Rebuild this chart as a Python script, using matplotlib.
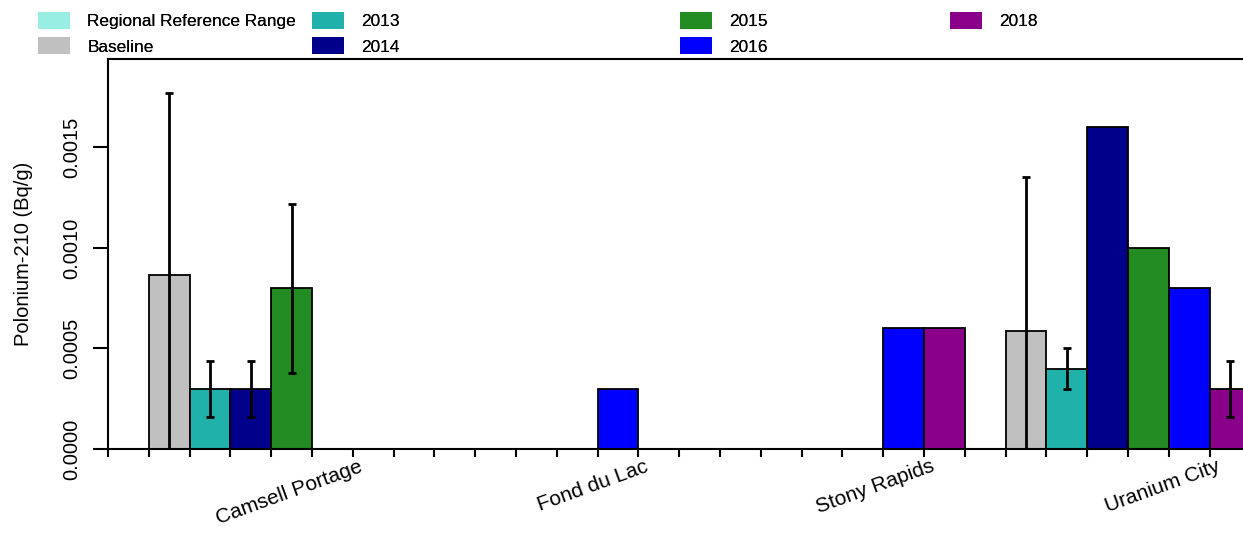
import numpy as np
import matplotlib.pyplot as plt
from matplotlib.patches import Patch

plt.rcParams['font.family'] = ['Liberation Sans', 'DejaVu Sans']

# data
sites = ['Camsell Portage', 'Fond du Lac', 'Stony Rapids', 'Uranium City']
series = ['Regional Reference Range', 'Baseline', '2013', '2014', '2015', '2016', '2018']
colors = ['#98EEE2', '#C0C0C0', '#20B2AA', '#00008B', '#228B22', '#0000FF', '#8B008B']

# rows = sites, columns = series (nan = no data)
nan = np.nan
values = np.array([
    [nan, 0.000866, 0.0003, 0.0003, 0.0008, nan, nan],
    [nan, nan, nan, nan, nan, 0.0003, nan],
    [nan, nan, nan, nan, nan, 0.0006, 0.0006],
    [nan, 0.000587, 0.0004, 0.0016, 0.0010, 0.0008, 0.0003],
])
errors = np.array([
    [nan, 0.000904, 0.00014, 0.00014, 0.00042, nan, nan],
    [nan, nan, nan, nan, nan, nan, nan],
    [nan, nan, nan, nan, nan, nan, nan],
    [nan, 0.000766, 0.0001, nan, nan, nan, 0.00014],
])

n_ser = len(series)
n_site = len(sites)

fig = plt.figure(figsize=(12.43, 5.33), dpi=100)
ax = fig.add_axes([108 / 1243, 84 / 533, 28 * 40.8 / 1243, 390 / 533])

for j in range(n_ser):
    x = np.arange(n_site) * n_ser + j
    h = ax.bar(x, np.nan_to_num(values[:, j]), width=1.0, align='edge',
               color=colors[j], edgecolor='black', linewidth=1.3)
    # hide empty bars
    for k, p in enumerate(h.patches):
        if np.isnan(values[k, j]):
            p.set_visible(False)
    ok = ~np.isnan(errors[:, j])
    if ok.any():
        ax.errorbar(x[ok] + 0.5, values[ok, j], yerr=errors[ok, j], fmt='none',
                    ecolor='black', elinewidth=2, capsize=3, capthick=2)

ax.set_xlim(0, n_site * n_ser)
ax.set_ylim(0, 0.00194)
ax.set_xticks(np.arange(0, n_site * n_ser + 1))
ax.set_xticklabels([])
ax.tick_params(axis='x', length=6, width=1.5, direction='out')
ax.set_yticks([0, 0.0005, 0.0010, 0.0015])
ax.set_yticklabels(['0.0000', '0.0005', '0.0010', '0.0015'], rotation=90,
                   va='center', fontsize=14.5)
ax.tick_params(axis='y', length=11, width=1.5, direction='out', pad=8)
for s in ax.spines.values():
    s.set_linewidth(1.5)
ax.set_ylabel('Polonium-210 (Bq/g)', fontsize=14.5, labelpad=21)

for i, name in enumerate(sites):
    ax.text(i * n_ser + 6.15, -0.00004, name, rotation=20, ha='right', va='top',
            rotation_mode='anchor', fontsize=15)

# legend in four columns placed like the reference
cols = [[0, 1], [2, 3], [4, 5], [6]]
xpos = [38, 312, 680, 950]
for c, xp in zip(cols, xpos):
    hs = [Patch(facecolor=colors[k], edgecolor='none') for k in c]
    leg = fig.legend(hs, [series[k] for k in c],
                     loc='upper left', bbox_to_anchor=(xp / 1243, 1 - 12 / 533),
                     frameon=False, fontsize=12.4, borderpad=0, borderaxespad=0,
                     handlelength=1.86, handleheight=1.16, handletextpad=1.0,
                     labelspacing=0.45)
    fig.add_artist(leg)

fig.savefig('out.png', dpi=100)
